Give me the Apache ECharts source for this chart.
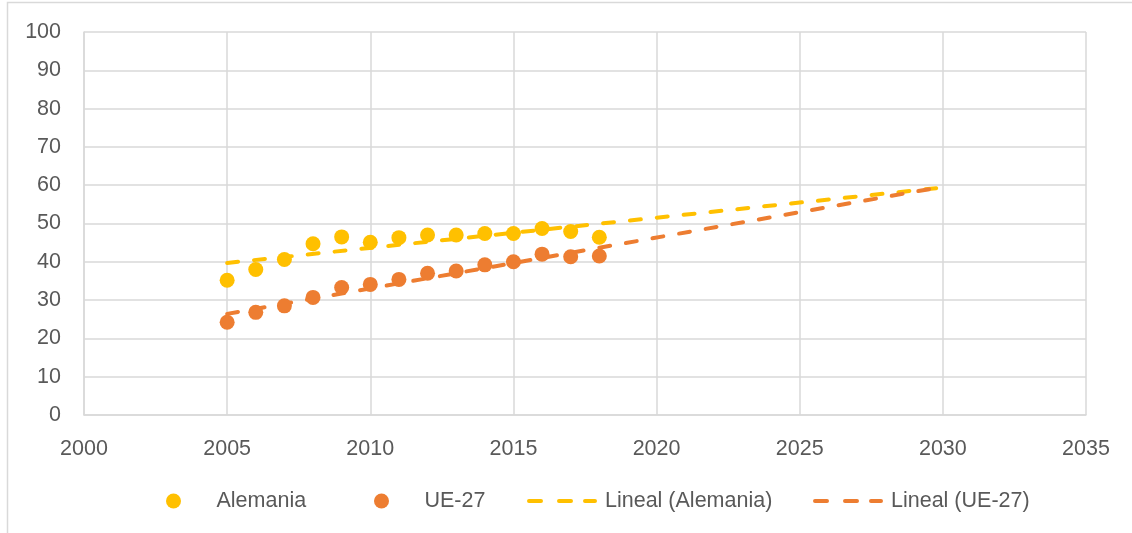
<!DOCTYPE html>
<html>
<head>
<meta charset="utf-8">
<script src="https://cdn.jsdelivr.net/npm/echarts@6/dist/echarts.min.js"></script>
<style>
html,body{margin:0;padding:0;background:#fff;}
#chart{width:1132px;height:533px;}
</style>
</head>
<body>
<div id="chart"></div>
<script>
// ---- data ----
const years = [2005, 2006, 2007, 2008, 2009, 2010, 2011, 2012, 2013, 2014, 2015, 2016, 2017, 2018];
const alemania = [35.2, 38.0, 40.6, 44.7, 46.5, 45.1, 46.3, 47.0, 47.0, 47.4, 47.4, 48.7, 47.9, 46.4];
const ue27 = [24.2, 26.8, 28.5, 30.7, 33.3, 34.1, 35.4, 37.0, 37.6, 39.2, 40.0, 42.0, 41.3, 41.5];
// trend lines (linear), endpoints
const trendYears = [2005, 2030];
const trendAlemania = [39.7, 59.4];
const trendUE27 = [26.4, 59.6];
const yTicks = [0, 10, 20, 30, 40, 50, 60, 70, 80, 90, 100];
const xTicks = [2000, 2005, 2010, 2015, 2020, 2025, 2030, 2035];
const seriesNames = ['Alemania', 'UE-27', 'Lineal (Alemania)', 'Lineal (UE-27)'];

const YELLOW = '#FFC000';
const ORANGE = '#ED7D31';
const FONT = 'Liberation Sans';
const TXT = '#595959';
const GRID = '#D9D9D9';
const FS = 21.5;

const zip = (xs, ys) => xs.map((x, i) => [x, ys[i]]);

const chart = echarts.init(document.getElementById('chart'), null, {renderer: 'canvas'});

const dashIcon = 'path://M2,0h12a2,2 0 0 1 0,4h-12a2,2 0 0 1 0,-4z M32,0h12a2,2 0 0 1 0,4h-12a2,2 0 0 1 0,-4z M58,0h10a2,2 0 0 1 0,4h-10a2,2 0 0 1 0,-4z';

const legendBase = {
  bottom: 16,
  itemGap: 0,
  textStyle: {fontFamily: FONT, fontSize: FS, color: TXT, padding: [0, 0, 0, 3]},
  selectedMode: false
};
const legends = [
  Object.assign({}, legendBase, {left: 161, itemWidth: 70, itemHeight: 15, data: [{name: seriesNames[0], icon: 'circle'}]}),
  Object.assign({}, legendBase, {left: 369, itemWidth: 70, itemHeight: 15, data: [{name: seriesNames[1], icon: 'circle'}]}),
  Object.assign({}, legendBase, {left: 522, itemWidth: 70, itemHeight: 4, data: [{name: seriesNames[2], icon: dashIcon, itemStyle: {color: YELLOW}}]}),
  Object.assign({}, legendBase, {left: 808, itemWidth: 70, itemHeight: 4, data: [{name: seriesNames[3], icon: dashIcon, itemStyle: {color: ORANGE}}]})
];

chart.setOption({
  animation: false,
  backgroundColor: '#fff',
  textStyle: {fontFamily: FONT},
  graphic: [{
    type: 'polyline',
    shape: {points: [[7.5, 533], [7.5, 2.5], [1132, 2.5]]},
    style: {stroke: GRID, lineWidth: 1.5, fill: null},
    silent: true
  }],
  grid: {left: 84, right: 46, top: 32, bottom: 118, containLabel: false},
  legend: legends,
  xAxis: {
    type: 'value',
    min: xTicks[0],
    max: xTicks[xTicks.length - 1],
    interval: 5,
    axisLine: {show: true, lineStyle: {color: GRID, width: 1.5}},
    axisTick: {show: false},
    splitLine: {show: true, lineStyle: {color: GRID, width: 1.5}},
    axisLabel: {fontFamily: FONT, fontSize: FS, color: TXT, margin: 23, formatter: v => String(v)}
  },
  yAxis: {
    type: 'value',
    min: yTicks[0],
    max: yTicks[yTicks.length - 1],
    interval: 10,
    axisLine: {show: true, lineStyle: {color: GRID, width: 1.5}},
    axisTick: {show: false},
    splitLine: {show: true, lineStyle: {color: GRID, width: 1.5}},
    axisLabel: {fontFamily: FONT, fontSize: FS, color: TXT, margin: 23}
  },
  series: [
    {
      name: seriesNames[0], type: 'scatter', data: zip(years, alemania),
      symbol: 'circle', symbolSize: 15, itemStyle: {color: YELLOW, opacity: 1}, z: 3
    },
    {
      name: seriesNames[1], type: 'scatter', data: zip(years, ue27),
      symbol: 'circle', symbolSize: 15, itemStyle: {color: ORANGE, opacity: 1}, z: 3
    },
    {
      name: seriesNames[2], type: 'line', data: zip(trendYears, trendAlemania),
      symbol: 'none', showSymbol: false, color: YELLOW,
      lineStyle: {color: YELLOW, width: 4, type: [11, 16], cap: 'round'}, z: 2
    },
    {
      name: seriesNames[3], type: 'line', data: zip(trendYears, trendUE27),
      symbol: 'none', showSymbol: false, color: ORANGE,
      lineStyle: {color: ORANGE, width: 4, type: [11, 16], cap: 'round'}, z: 2
    }
  ]
});
</script>
</body>
</html>
